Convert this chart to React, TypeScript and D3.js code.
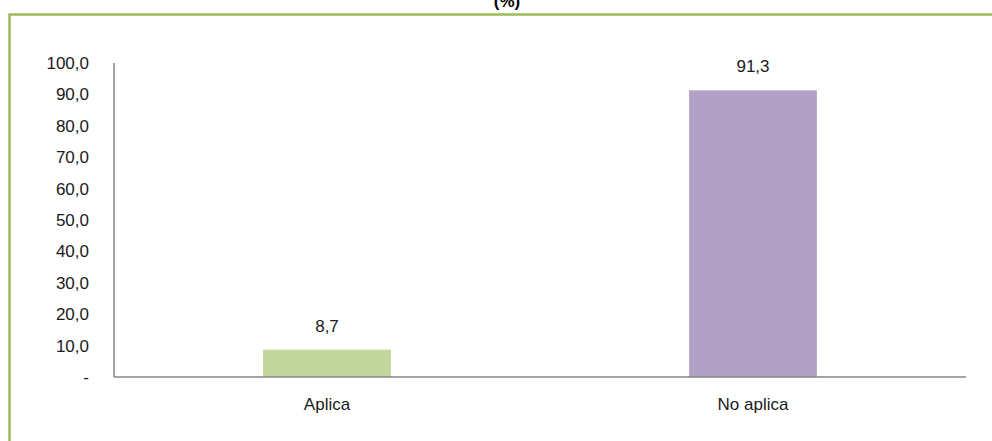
import React from 'react';
import * as d3 from 'd3';

const categories = ['Aplica', 'No aplica'];
const values = [8.7, 91.3];
const barColors = ['#c3d69b', '#b2a1c7'];
const yTicks = [0, 10, 20, 30, 40, 50, 60, 70, 80, 90, 100];

const W = 992;
const H = 441;
const margin = { top: 63, left: 114, right: 26, bottom: 64 };
const FONT = '"Liberation Sans", Arial, sans-serif';

const fmt = (v: number) => (v === 0 ? '-' : v.toFixed(1).replace('.', ','));

const App: React.FC = () => {
  const x = d3
    .scaleBand<string>()
    .domain(categories)
    .range([margin.left, W - margin.right])
    .paddingInner(0.7)
    .paddingOuter(0.35);

  const y = d3
    .scaleLinear()
    .domain([0, 100])
    .range([H - margin.bottom, margin.top]);

  const y0 = y(0);

  return (
    <svg
      width={W}
      height={H}
      style={{ position: 'absolute', left: 0, top: 0, background: '#fff' }}
      fontFamily={FONT}
    >
      {/* chart frame */}
      <path d={`M9.5,${H} V14.5 H${W}`} fill="none" stroke="#9bbb59" strokeWidth={2.5} />

      <text x={507} y={7} textAnchor="middle" fontSize={17} fontWeight="bold" fill="#000">
        (%)
      </text>

      {/* y tick labels */}
      {yTicks.map((t) => (
        <text key={t} x={89} y={y(t) + 6} textAnchor="end" fontSize={17} fill="#1a1a1a">
          {fmt(t)}
        </text>
      ))}

      {/* bars */}
      {categories.map((c, i) => (
        <g key={c}>
          <rect
            x={x(c)!}
            y={y(values[i])}
            width={x.bandwidth()}
            height={y0 - y(values[i])}
            fill={barColors[i]}
          />
          <text
            x={x(c)! + x.bandwidth() / 2}
            y={y(values[i]) - 18}
            textAnchor="middle"
            fontSize={17}
            fill="#1a1a1a"
          >
            {fmt(values[i])}
          </text>
          <text
            x={x(c)! + x.bandwidth() / 2}
            y={y0 + 33}
            textAnchor="middle"
            fontSize={17}
            fill="#1a1a1a"
          >
            {c}
          </text>
        </g>
      ))}

      {/* axes */}
      <line x1={margin.left} x2={margin.left} y1={margin.top} y2={y0} stroke="#868686" strokeWidth={1.5} />
      <line x1={margin.left} x2={W - margin.right} y1={y0} y2={y0} stroke="#868686" strokeWidth={1.5} />
    </svg>
  );
};

export default App;
